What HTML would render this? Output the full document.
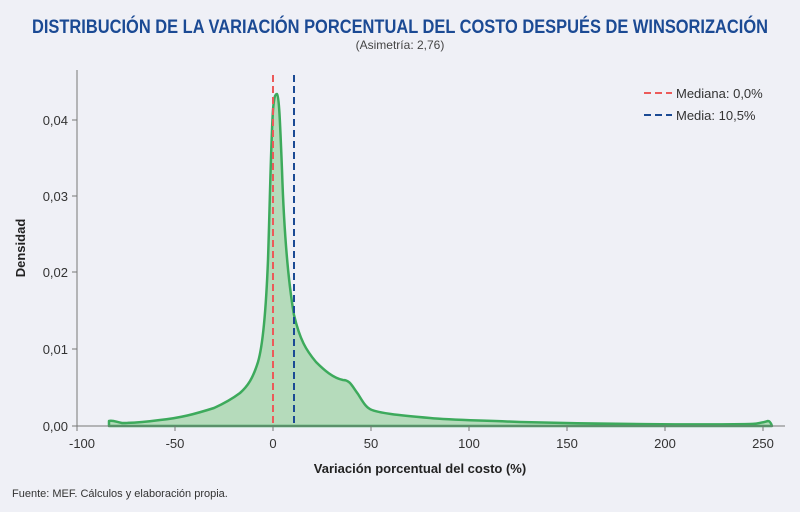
<!DOCTYPE html>
<html><head><meta charset="utf-8"><style>
body{margin:0;background:#eff0f6;}
svg{display:block;font-family:"Liberation Sans",sans-serif;}
</style></head><body>
<svg width="800" height="512" viewBox="0 0 800 512">
<rect width="800" height="512" fill="#eff0f6"/>
<text x="400" y="33" text-anchor="middle" font-size="19" font-weight="bold" fill="#1b4a94" textLength="736" lengthAdjust="spacingAndGlyphs">DISTRIBUCIÓN DE LA VARIACIÓN PORCENTUAL DEL COSTO DESPUÉS DE WINSORIZACIÓN</text>
<text x="400" y="49" text-anchor="middle" font-size="12" fill="#444">(Asimetría: 2,76)</text>
<path d="M109,426 L109,421 C113,420 116,422 122,423 C135,423 145,422 160,420 C180,418 195,414 214,408 C225,403 232,399 240,393 C248,386 253,378 258,362 C263,345 266,310 268,260 C270,200 271,140 273,110 C274,98 275,94 277,94 C279,96 280,120 282,170 C284,230 288,280 294,315 C300,340 306,350 316,362 C324,370 333,378 343,380 C350,380 352,386 358,394 C363,402 366,408 372,410 C380,413 395,415 430,418 C450,420 470,420 520,422 C600,424 700,425 750,424 C758,424 764,422 768,421 C770,421 771,423 772,426 Z" fill="#b5dbbb" stroke="#3daa5c" stroke-width="2.5" stroke-linejoin="round"/>
<line x1="77" y1="70" x2="77" y2="426" stroke="#777" stroke-width="1"/>
<line x1="77" y1="426" x2="785" y2="426" stroke="#777" stroke-width="1"/>
<g stroke="#777"><line x1="72" y1="426" x2="77" y2="426"/><line x1="72" y1="349" x2="77" y2="349"/><line x1="72" y1="272" x2="77" y2="272"/><line x1="72" y1="196" x2="77" y2="196"/><line x1="72" y1="120" x2="77" y2="120"/>
<line x1="77" y1="426" x2="77" y2="431"/><line x1="175" y1="426" x2="175" y2="431"/><line x1="273" y1="426" x2="273" y2="431"/><line x1="371" y1="426" x2="371" y2="431"/><line x1="469" y1="426" x2="469" y2="431"/><line x1="567" y1="426" x2="567" y2="431"/><line x1="665" y1="426" x2="665" y2="431"/><line x1="763" y1="426" x2="763" y2="431"/></g>
<g font-size="13" fill="#333" text-anchor="end"><text x="68" y="431">0,00</text><text x="68" y="354">0,01</text><text x="68" y="277">0,02</text><text x="68" y="201">0,03</text><text x="68" y="125">0,04</text></g>
<g font-size="13" fill="#333" text-anchor="middle"><text x="82" y="448">-100</text><text x="175" y="448">-50</text><text x="273" y="448">0</text><text x="371" y="448">50</text><text x="469" y="448">100</text><text x="567" y="448">150</text><text x="665" y="448">200</text><text x="763" y="448">250</text></g>
<text x="420" y="473" text-anchor="middle" font-size="13" font-weight="bold" fill="#222">Variación porcentual del costo (%)</text>
<text transform="translate(25,248) rotate(-90)" text-anchor="middle" font-size="13" font-weight="bold" fill="#222">Densidad</text>
<line x1="273" y1="75" x2="273" y2="426" stroke="#ec5a5a" stroke-width="2" stroke-dasharray="7,4"/>
<line x1="294" y1="75" x2="294" y2="426" stroke="#1b4a94" stroke-width="2" stroke-dasharray="7,4"/>
<line x1="644" y1="93" x2="672" y2="93" stroke="#ec5a5a" stroke-width="2" stroke-dasharray="7,4"/>
<line x1="644" y1="115" x2="672" y2="115" stroke="#1b4a94" stroke-width="2" stroke-dasharray="7,4"/>
<text x="676" y="98" font-size="13" fill="#333">Mediana: 0,0%</text>
<text x="676" y="120" font-size="13" fill="#333">Media: 10,5%</text>
<text x="12" y="497" font-size="11" fill="#333">Fuente: MEF. Cálculos y elaboración propia.</text>
</svg>
</body></html>
